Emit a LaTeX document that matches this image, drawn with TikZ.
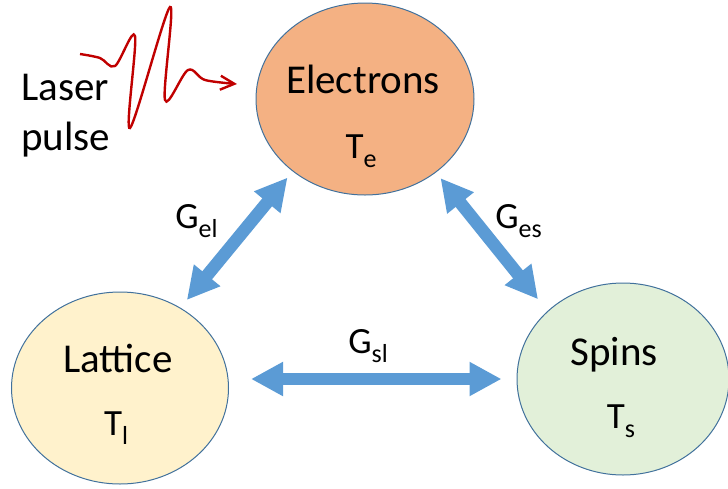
\documentclass[tikz,border=0pt]{standalone}
\usepackage{fontspec}
\setmainfont{Carlito}
\usetikzlibrary{shapes.geometric,arrows.meta}
\definecolor{elecorange}{HTML}{F4B183}
\definecolor{latyellow}{HTML}{FFF2CC}
\definecolor{spingreen}{HTML}{E2F0D9}
\definecolor{linkblue}{HTML}{5B9BD5}
\definecolor{rimblue}{HTML}{41719C}
\definecolor{pulsered}{HTML}{C00000}
\newcommand{\lowidx}[1]{\raisebox{-4.5pt}{\fontsize{13}{13}\selectfont #1}}

\begin{document}
\begin{tikzpicture}[x=0.5pt,y=-0.5pt,
  blob/.style={ellipse,draw=rimblue,line width=0.5pt,inner sep=0pt,minimum height=96pt},
  bigtxt/.style={font=\fontsize{20.5}{24}\selectfont,inner sep=0pt,anchor=base},
  symtxt/.style={font=\fontsize{18.5}{22}\selectfont,inner sep=0pt,anchor=base},
  link/.style={draw=linkblue,line width=6.3pt,
    {Triangle[width=16pt,length=16pt]}-{Triangle[width=16pt,length=16pt]}}]
\useasboundingbox (0,0) rectangle (728,488);
% the three subsystems
\node[blob,fill=elecorange,minimum width=109pt] (ele) at (365,99) {};
\node[blob,fill=latyellow,minimum width=108.5pt] (lat) at (120,388) {};
\node[blob,fill=spingreen,minimum width=106pt] (spi) at (623,379) {};
\node[bigtxt] (eletxt) at (363,93) {Electrons};
\node[symtxt] (elesym) at (361,158) {T\lowidx{e}};
\node[bigtxt] (lattxt) at (118,372) {Lattice};
\node[symtxt] (latsym) at (116,435) {T\lowidx{l}};
\node[bigtxt] (spitxt) at (614,365) {Spins};
\node[symtxt] (spisym) at (621,428) {T\lowidx{s}};
% couplings
\draw[link,shorten <=5pt,shorten >=4pt] (lat.53) -- (ele.225);
\draw[link,shorten <=3.6pt,shorten >=7.5pt] (ele.314) -- (spi.138);
\draw[link] ([xshift=11pt]lat.east |- spi.west) -- ([xshift=-7.5pt]spi.west);
\node[symtxt,anchor=base west] (gel) at (175,228) {G\lowidx{el}};
\node[symtxt,anchor=base west] (ges) at (495,228) {G\lowidx{es}};
\node[symtxt,anchor=base west] (gsl) at (348,353) {G\lowidx{sl}};
% laser pulse
\node[bigtxt,anchor=base west] (laser) at (21,100) {Laser};
\node[bigtxt,anchor=base west] (pulse) at (21,150) {pulse};
\draw[pulsered,line width=1.2pt,-{Straight Barb[length=7pt,width=7pt]}]
  plot[smooth,tension=0.55] coordinates {(80,54) (100,58) (115,66) (135,36)
  (130,128) (170,7) (165,100) (188,70) (205,80) (237,84)};
\end{tikzpicture}
\end{document}
